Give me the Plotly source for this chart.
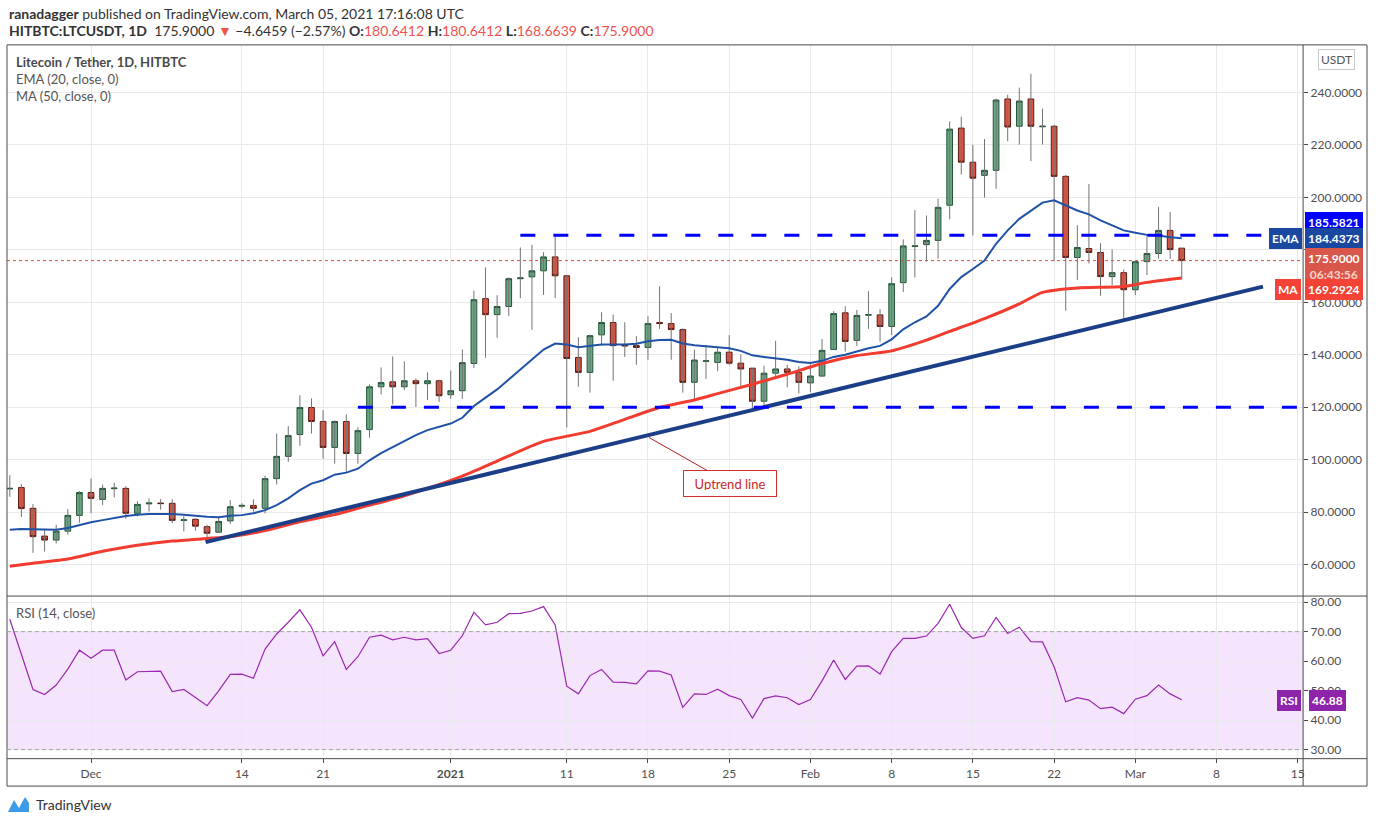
import pandas as pd
import plotly.graph_objects as go

W, H = 1376, 823

# daily candles, Nov 24 2020 .. Mar 5 2021
dates = pd.date_range("2020-11-24", periods=102, freq="D")

opens = [88.9, 89.4, 81.5, 70.9, 69.4, 72.8, 78.8, 87.5, 84.9, 89.0,
         89.1, 79.6, 83.2, 83.5, 83.4, 76.9, 77.3, 74.5, 72.4, 76.7,
         82.3, 82.6, 81.5, 92.8, 101.3, 109.6, 119.9, 114.6, 104.7, 114.6,
         102.4, 111.5, 127.8, 129.7, 127.8, 130.1, 129.0, 130.1, 124.8, 126.3,
         136.7, 161.4, 155.3, 158.4, 169.0, 169.7, 172.0, 177.3, 170.1, 139.0,
         133.3, 147.6, 152.3, 143.8, 143.5, 142.8, 152.3, 151.9, 149.6, 129.5,
         137.5, 137.1, 141.0, 136.8, 134.9, 122.3, 133.0, 134.6, 133.3, 129.3,
         131.9, 142.0, 156.0, 145.5, 155.1, 155.2, 150.8, 167.5, 181.3, 182.0,
         183.6, 197.0, 226.4, 213.4, 208.4, 210.3, 237.5, 227.1, 237.5, 226.9,
         227.1, 208.0, 177.1, 180.5, 179.0, 169.8, 171.3, 164.8, 175.5, 178.6,
         187.4, 180.6412]
highs = [94.1, 90.7, 83.1, 73.5, 75.2, 81.2, 88.1, 92.8, 90.5, 91.3,
         89.9, 84.2, 85.3, 85.0, 84.9, 78.5, 77.7, 75.2, 78.1, 84.6,
         83.4, 84.9, 93.9, 110.0, 112.8, 124.6, 123.4, 118.9, 115.0, 117.3,
         112.4, 128.7, 135.2, 139.4, 137.5, 131.0, 133.3, 130.5, 134.0, 142.0,
         164.4, 173.3, 162.7, 169.5, 180.9, 181.9, 179.1, 185.2, 170.5, 146.7,
         147.7, 156.2, 155.3, 152.4, 147.1, 154.7, 166.1, 155.9, 150.1, 141.9,
         143.8, 142.8, 147.5, 140.0, 134.9, 135.8, 145.3, 136.2, 135.6, 136.4,
         146.0, 156.6, 158.5, 157.1, 164.2, 157.4, 169.5, 184.0, 195.1, 193.1,
         199.5, 229.0, 230.7, 220.0, 222.2, 237.6, 239.1, 241.8, 247.1, 233.8,
         227.6, 208.5, 189.4, 205.1, 182.5, 180.1, 172.5, 175.8, 185.2, 196.3,
         194.4, 180.6412]
lows = [85.9, 78.2, 64.5, 65.0, 68.1, 71.4, 76.0, 79.6, 82.8, 85.6,
        77.5, 78.4, 80.2, 81.0, 75.8, 72.7, 73.0, 69.8, 72.1, 75.5,
        81.5, 80.2, 79.6, 90.6, 99.2, 105.3, 110.0, 100.4, 98.5, 95.4,
        98.5, 108.4, 124.9, 121.1, 126.5, 120.1, 122.8, 122.0, 123.2, 123.2,
        135.0, 138.9, 146.5, 154.8, 161.6, 149.5, 162.8, 161.6, 112.3, 127.8,
        125.6, 143.5, 130.1, 139.2, 136.2, 138.1, 149.9, 138.1, 125.6, 122.8,
        130.8, 133.7, 136.2, 128.0, 118.2, 120.0, 131.4, 127.6, 125.3, 125.7,
        131.7, 141.9, 141.2, 143.4, 149.9, 145.0, 147.5, 163.9, 169.5, 175.5,
        176.6, 191.6, 208.7, 185.5, 199.9, 203.3, 221.4, 220.1, 213.8, 220.1,
        175.7, 156.8, 168.5, 174.8, 162.5, 166.6, 153.0, 162.8, 170.4, 176.6,
        176.6, 168.6639]
closes = [89.1, 81.4, 70.7, 69.4, 72.8, 78.8, 87.5, 85.3, 89.1, 89.2,
          79.6, 83.0, 83.5, 83.3, 76.9, 77.1, 74.7, 72.0, 76.5, 82.1,
          82.6, 81.5, 92.8, 101.3, 109.2, 119.9, 114.6, 104.7, 114.6, 102.4,
          111.1, 127.8, 129.4, 127.8, 130.1, 129.0, 130.1, 124.4, 126.3, 137.0,
          161.0, 155.3, 158.4, 169.0, 169.3, 172.0, 177.3, 170.1, 138.6, 133.3,
          147.3, 152.3, 143.5, 143.4, 142.8, 151.9, 151.9, 149.6, 129.5, 138.0,
          137.7, 141.0, 136.8, 134.6, 122.3, 133.0, 134.6, 133.3, 129.5, 131.9,
          141.7, 155.7, 145.1, 155.0, 155.3, 150.8, 167.1, 181.5, 181.5, 183.6,
          196.2, 226.0, 213.4, 207.3, 210.3, 237.1, 226.8, 236.7, 227.1, 227.1,
          208.0, 177.1, 180.9, 179.0, 169.8, 171.3, 164.8, 175.5, 178.6, 187.4,
          180.1, 175.9]

ema20 = [73.3, 73.6, 73.5, 73.4, 73.3, 74.0, 75.2, 76.2, 77.0, 77.8,
         78.6, 79.0, 79.3, 79.3, 79.3, 79.0, 78.6, 78.3, 78.1, 78.7,
         78.9, 79.6, 80.8, 82.7, 85.3, 88.4, 90.9, 92.2, 94.3, 95.1,
         96.6, 99.8, 102.5, 104.9, 107.2, 109.4, 111.3, 112.5, 113.8, 116.0,
         120.5, 123.7, 126.8, 130.6, 134.4, 138.2, 142.0, 144.3, 143.9, 142.9,
         143.3, 143.9, 143.9, 143.9, 144.2, 145.2, 145.6, 145.7, 144.3, 143.6,
         143.3, 143.0, 142.5, 141.5, 139.8, 139.2, 138.7, 138.1, 137.3, 136.9,
         137.7, 139.2, 140.0, 141.2, 142.5, 143.4, 145.9, 149.7, 152.4, 154.6,
         158.7, 165.1, 169.6, 172.7, 175.9, 182.3, 187.4, 191.8, 195.0, 198.0,
         198.9, 196.9, 195.0, 193.5, 191.2, 189.3, 187.4, 186.5, 185.7, 185.5,
         184.8, 184.4373]

ma_dates = ["2020-11-24", "2020-11-26", "2020-11-29", "2020-12-02", "2020-12-05",
            "2020-12-08", "2020-12-11", "2020-12-13", "2020-12-16", "2020-12-19",
            "2020-12-22", "2020-12-24", "2020-12-28", "2021-01-02", "2021-01-05",
            "2021-01-09", "2021-01-13", "2021-01-16", "2021-01-19", "2021-01-22",
            "2021-01-24", "2021-01-27", "2021-01-30", "2021-02-02", "2021-02-05",
            "2021-02-08", "2021-02-11", "2021-02-13", "2021-02-16", "2021-02-19",
            "2021-02-21", "2021-02-24", "2021-02-28", "2021-03-02", "2021-03-05"]
ma50 = [59.4, 60.6, 62.2, 65.1, 67.4, 69.0, 70.0, 70.7, 73.0, 76.4,
        79.1, 81.5, 86.3, 93.8, 99.5, 107.0, 110.8, 115.4, 119.9, 122.8,
        125.2, 128.8, 132.6, 136.7, 139.7, 141.5, 145.6, 148.9, 153.8, 159.4,
        163.8, 165.5, 166.0, 167.6, 169.2924]

rsi14 = [74.2, 62.6, 50.4, 48.7, 51.9, 57.3, 63.7, 61.0, 63.7, 63.7,
         53.6, 56.4, 56.6, 56.6, 49.7, 50.4, 47.7, 44.9, 49.9, 55.5,
         55.6, 54.2, 64.1, 69.2, 73.2, 77.4, 71.5, 61.8, 66.6, 57.2,
         61.5, 68.1, 68.8, 67.2, 68.1, 67.2, 67.6, 62.6, 63.7, 68.6,
         76.6, 72.3, 73.2, 76.1, 76.2, 77.0, 78.5, 72.3, 51.5, 48.9,
         55.1, 57.2, 52.9, 52.8, 52.3, 56.7, 56.6, 55.3, 44.3, 48.9,
         48.7, 50.5, 48.3, 47.0, 40.7, 47.3, 48.2, 47.6, 45.3, 47.0,
         53.3, 60.4, 53.8, 58.3, 58.4, 55.6, 63.2, 67.7, 67.7, 68.5,
         72.8, 79.3, 71.4, 67.7, 68.6, 74.8, 69.4, 71.5, 66.6, 66.5,
         58.1, 46.2, 47.6, 46.8, 43.9, 44.4, 42.2, 47.1, 48.3, 51.9,
         48.9, 46.88]
rsi_levels = [70, 30]

levels = [185.5821, 120.0]
level_starts = ["2021-01-07", "2020-12-24"]
trend_dates = ["2020-12-10 21:00", "2021-03-12 00:00"]
trend_vals = [68.6, 166.0]

tick_dates = ["2020-12-01", "2020-12-14", "2020-12-21", "2021-01-01", "2021-01-11",
              "2021-01-18", "2021-01-25", "2021-02-01", "2021-02-08", "2021-02-15",
              "2021-02-22", "2021-03-01", "2021-03-08", "2021-03-15"]
tick_text = ["Dec", "14", "21", "<b>2021</b>", "11", "18", "25", "Feb", "8", "15",
             "22", "Mar", "8", "15"]

x_range = ["2020-11-23 18:13", "2021-03-15 11:00"]

FONT = "Liberation Sans Narrow, Lato"
GRID = "#e9e9ea"
FRAME = "#4a4a4a"
TXT = "#4f4f4f"


def px(x):
    return x / W


def py(y):
    return 1 - y / H


fig = go.Figure()

# wicks
wick_x, wick_y = [], []
for d, lo, hi in zip(dates, lows, highs):
    wick_x += [d, d, None]
    wick_y += [lo, hi, None]
fig.add_trace(go.Scatter(x=wick_x, y=wick_y, mode='lines', line=dict(color='#737375', width=1),
                         hoverinfo='skip', xaxis='x', yaxis='y'))

# bodies
body_hi = [max(o, c) for o, c in zip(opens, closes)]
body_lo = [min(o, c) for o, c in zip(opens, closes)]
fig.add_trace(go.Candlestick(x=dates, open=opens, high=body_hi, low=body_lo, close=closes,
                             increasing=dict(line=dict(color='#225437', width=1), fillcolor='#6ba583'),
                             decreasing=dict(line=dict(color='#5b1a13', width=1), fillcolor='#d75442'),
                             whiskerwidth=0, xaxis='x', yaxis='y'))

fig.add_trace(go.Scatter(x=dates, y=ema20, mode='lines', line=dict(color='#1f52a6', width=2),
                         xaxis='x', yaxis='y'))
fig.add_trace(go.Scatter(x=ma_dates, y=ma50, mode='lines', line=dict(color='#f23c2f', width=3, shape='spline',
                                                                     smoothing=0.6),
                         xaxis='x', yaxis='y'))
fig.add_trace(go.Scatter(x=trend_dates, y=trend_vals, mode='lines', line=dict(color='#1b3e86', width=4),
                         xaxis='x', yaxis='y'))
for lvl, start in zip(levels, level_starts):
    fig.add_trace(go.Scatter(x=[start, x_range[1]], y=[lvl, lvl], mode='lines',
                             line=dict(color='#0000ff', width=3, dash='15px,18px'),
                             xaxis='x', yaxis='y'))

fig.add_trace(go.Scatter(x=dates, y=rsi14, mode='lines', line=dict(color='#9c27b0', width=1.2),
                         xaxis='x2', yaxis='y2'))

shapes = [
    # rsi band
    dict(type='rect', xref='x2 domain', yref='y2', x0=0, x1=1, y0=rsi_levels[1], y1=rsi_levels[0],
         fillcolor='#f4e5fc', line=dict(width=0), layer='below'),
    # last price dotted
    dict(type='line', xref='x domain', yref='y', x0=0, x1=1, y0=closes[-1], y1=closes[-1],
         line=dict(color='#d75442', width=1, dash='dot')),
    # frame
    dict(type='rect', xref='paper', yref='paper', x0=px(7), x1=px(1369), y0=py(786), y1=py(43),
         line=dict(color=FRAME, width=1)),
    dict(type='line', xref='paper', yref='paper', x0=px(1305), x1=px(1305), y0=py(786), y1=py(43),
         line=dict(color=FRAME, width=1)),
    dict(type='line', xref='paper', yref='paper', x0=px(7), x1=px(1369), y0=py(595.5), y1=py(595.5),
         line=dict(color=FRAME, width=1)),
    dict(type='line', xref='paper', yref='paper', x0=px(7), x1=px(1369), y0=py(758.5), y1=py(758.5),
         line=dict(color=FRAME, width=1)),
    # logo mark
    dict(type='path', xref='paper', yref='paper',
         path=f"M {px(8)},{py(812)} L {px(14)},{py(800)} L {px(19)},{py(808)} L {px(25)},{py(797)} "
              f"L {px(29)},{py(803)} L {px(29)},{py(812)} Z",
         fillcolor='#3b9be8', line=dict(width=0)),
]
for lvl in rsi_levels:
    shapes.append(dict(type='line', xref='x2 domain', yref='y2', x0=0, x1=1, y0=lvl, y1=lvl,
                       line=dict(color='#a8a0ac', width=1, dash='4px,3px')))


def label(x, y, text, bg, color='white', size=12, bold=True, border=None):
    t = f"<b>{text}</b>" if bold else text
    return dict(xref='paper', yref='paper', x=px(x), y=py(y), text=t, showarrow=False,
                xanchor='center', yanchor='middle', bgcolor=bg, bordercolor=border or bg,
                borderwidth=1, borderpad=2, font=dict(family=FONT, size=size, color=color))


hdr2 = ("<b>HITBTC:LTCUSDT, 1D</b>  175.9000 <span style='color:#ef5350'>▼</span> "
        "−4.6459 (−2.57%) <b>O:</b><span style='color:#ef5350'>180.6412</span> "
        "<b>H:</b><span style='color:#ef5350'>180.6412</span> "
        "<b>L:</b><span style='color:#ef5350'>168.6639</span> "
        "<b>C:</b><span style='color:#ef5350'>175.9000</span>")

annotations = [
    dict(xref='paper', yref='paper', x=px(7), y=py(12), xanchor='left', yanchor='middle', showarrow=False,
         text="<b>ranadagger</b> published on TradingView.com, March 05, 2021 17:16:08 UTC",
         font=dict(family=FONT, size=14, color='#333333')),
    dict(xref='paper', yref='paper', x=px(7), y=py(29), xanchor='left', yanchor='middle', showarrow=False,
         text=hdr2, font=dict(family=FONT, size=14, color='#333333')),
    dict(xref='paper', yref='paper', x=px(14), y=py(60), xanchor='left', yanchor='middle', showarrow=False,
         text="<b>Litecoin / Tether, 1D, HITBTC</b>", font=dict(family=FONT, size=13, color='#4a4a4a')),
    dict(xref='paper', yref='paper', x=px(14), y=py(77), xanchor='left', yanchor='middle', showarrow=False,
         text="EMA (20, close, 0)", font=dict(family=FONT, size=13, color='#555555')),
    dict(xref='paper', yref='paper', x=px(14), y=py(94), xanchor='left', yanchor='middle', showarrow=False,
         text="MA (50, close, 0)", font=dict(family=FONT, size=13, color='#555555')),
    dict(xref='paper', yref='paper', x=px(14), y=py(612), xanchor='left', yanchor='middle', showarrow=False,
         text="RSI (14, close)", font=dict(family=FONT, size=13, color='#555555')),
    dict(xref='paper', yref='paper', x=px(34), y=py(804), xanchor='left', yanchor='middle', showarrow=False,
         text="TradingView", font=dict(family=FONT, size=14, color='#333333')),
    # uptrend note
    dict(xref='x', yref='y', x="2021-01-18 02:00", y=108.5, ax=81, ay=46, showarrow=True,
         arrowhead=0, arrowwidth=1, arrowcolor='#b71c1c', text="Uptrend line",
         font=dict(family=FONT, size=13, color='#c62828'), bgcolor='white', bordercolor='#d32f2f',
         borderwidth=1, borderpad=6, width=80, height=13),
    label(1338, 58, "USDT", 'white', color='#555555', size=12, bold=False, border='#c8c8c8'),
    label(1336, 221, f"{levels[0]:.4f}", '#0000ff'),
    label(1287, 237.5, "EMA", '#1a48a0'),
    label(1336, 237.5, f"{ema20[-1]:.4f}", '#1a48a0'),
    label(1336, 265.5, f"{closes[-1]:.4f}<br><span style='color:#fbd0c9'>06:43:56</span>", '#d9574a'),
    label(1290, 288, "MA", '#f44336'),
    label(1336, 288, f"{ma50[-1]:.4f}", '#f44336'),
    label(1291, 700.5, "RSI", '#8e24aa'),
    label(1329, 700.5, f"{rsi14[-1]:.2f}", '#8e24aa'),
]

fig.update_layout(
    width=W, height=H, margin=dict(l=0, r=0, t=0, b=0),
    paper_bgcolor='white', plot_bgcolor='white', showlegend=False,
    font=dict(family=FONT, size=12, color=TXT),
    shapes=shapes, annotations=annotations,
    xaxis=dict(domain=[px(7), px(1305)], anchor='y', range=x_range, type='date',
               tickvals=tick_dates, showticklabels=False, showgrid=True, gridcolor=GRID,
               zeroline=False, showline=False, rangeslider=dict(visible=False)),
    xaxis2=dict(domain=[px(7), px(1305)], anchor='y2', matches='x', range=x_range, type='date',
                tickvals=tick_dates, ticktext=tick_text, showgrid=True, gridcolor=GRID,
                zeroline=False, showline=False, ticks='outside', ticklen=4, tickcolor=FRAME,
                tickfont=dict(family=FONT, size=12, color=TXT)),
    yaxis=dict(domain=[py(595), py(43)], anchor='x', side='right', range=[48.25, 258.1],
               tickvals=[60, 80, 100, 120, 140, 160, 180, 200, 220, 240], tickformat='.4f',
               showgrid=True, gridcolor=GRID, zeroline=False, ticks='outside', ticklen=4,
               tickcolor=FRAME, tickfont=dict(family=FONT, size=12, color=TXT)),
    yaxis2=dict(domain=[py(758), py(596)], anchor='x2', side='right', range=[27.1, 81.9],
                tickvals=[30, 40, 50, 60, 70, 80], tickformat='.2f',
                showgrid=True, gridcolor=GRID, zeroline=False, ticks='outside', ticklen=4,
                tickcolor=FRAME, tickfont=dict(family=FONT, size=12, color=TXT)),
)

fig.write_html("out.html", config={'displayModeBar': False},
               post_script="document.body.style.margin='0px';")
